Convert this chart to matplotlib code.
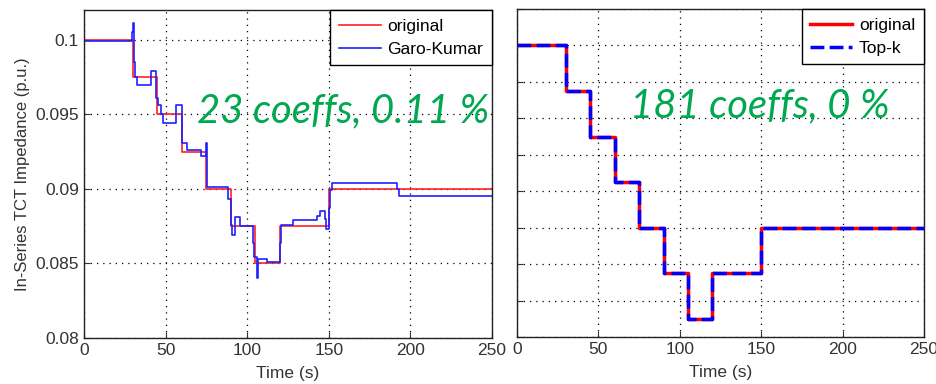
import numpy as np
import matplotlib.pyplot as plt

# original step profile (s, p.u.)
orig_t = [0, 30, 45, 60, 75, 90, 105, 120, 150, 250]
orig_z = [0.1, 0.0975, 0.095, 0.0925, 0.09, 0.0875, 0.085, 0.0875, 0.09, 0.09]

# Garo-Kumar reconstruction, 23 coefficients
gk_t = [0, 29.5, 30, 30.7, 31.5, 32.5, 41, 44, 45.5, 47, 48.5, 56.5, 60.2, 63,
        71.5, 74.5, 75.5, 88.5, 90.2, 91, 92.5, 95.5, 103.5, 104.5, 106, 106.8,
        112, 120, 120.7, 128, 143, 144.5, 147.5, 148.5, 150, 150.7, 152, 192,
        193, 250]
gk_z = [0.0999, 0.1005, 0.1011, 0.0985, 0.0975, 0.0970, 0.0979, 0.0961, 0.0956,
        0.0950, 0.0944, 0.0956, 0.0931, 0.0926, 0.0922, 0.0931, 0.0901, 0.0893,
        0.0876, 0.0869, 0.0881, 0.0875, 0.0864, 0.0854, 0.0840, 0.0853, 0.0851,
        0.0864, 0.0876, 0.0879, 0.0882, 0.0885, 0.0880, 0.0873, 0.0887, 0.0899,
        0.0904, 0.0900, 0.08953, 0.08953]

# Top-k reconstruction, 181 coefficients (exact)
topk_t = orig_t
topk_z = orig_z

plt.rcParams['font.family'] = ['Liberation Sans', 'DejaVu Sans']
plt.rcParams['font.size'] = 12.5
TXT = '#333333'

fig = plt.figure(figsize=(9.37, 3.84), dpi=100)
ax1 = fig.add_axes([0.0896, 0.1198, 0.4354, 0.8542])
ax2 = fig.add_axes([0.5518, 0.1224, 0.4343, 0.8542])

ax1.plot(orig_t, orig_z, drawstyle='steps-post', color='#ff2020', lw=1.2, label='original')
ax1.plot(gk_t, gk_z, drawstyle='steps-post', color='#2020ff', lw=1.2, label='Garo-Kumar')
ax1.set_xlim(0, 250)
ax1.set_ylim(0.08, 0.102)
ax1.set_yticks([0.08, 0.085, 0.09, 0.095, 0.1])
ax1.set_yticklabels(['0.08', '0.085', '0.09', '0.095', '0.1'])
ax1.set_xticks([0, 50, 100, 150, 200, 250])
ax1.set_ylabel('In-Series TCT Impedance (p.u.)', color=TXT, fontsize=12, labelpad=4)
ax1.set_xlabel('Time (s)', color=TXT, fontsize=12.5, labelpad=6)

ax2.plot(orig_t, orig_z, drawstyle='steps-post', color='#ff0000', lw=2.5, label='original')
ax2.plot(topk_t, topk_z, drawstyle='steps-post', color='#0000ff', lw=2.5,
         ls=(0, (4, 1.5)), label='Top-k')
ax2.set_xlim(0, 250)
ax2.set_ylim(0.084, 0.102)
ax2.set_yticks(np.arange(0.084, 0.1021, 0.002))
ax2.set_yticklabels([])
ax2.set_xticks([0, 50, 100, 150, 200, 250])
ax2.set_xlabel('Time (s)', color=TXT, fontsize=12.5, labelpad=6)

for ax in (ax1, ax2):
    ax.grid(True, color='black', ls=(0, (1, 4)), lw=0.9)
    ax.tick_params(direction='in', length=4, colors=TXT, labelcolor=TXT,
                   labelsize=12.5)
    for s in ax.spines.values():
        s.set_color('#222222')
        s.set_linewidth(1.0)
    leg = ax.legend(loc='upper right', borderaxespad=0, fancybox=False,
                    handlelength=2.4, framealpha=1, edgecolor='black',
                    fontsize=12.5, borderpad=0.5, labelspacing=0.45,
                    handletextpad=0.4)
    leg.get_frame().set_linewidth(1.0)

fig.text(0.210, 0.682, '23 coeffs, 0.11 %', color='#00a84f', fontsize=28.8,
         style='italic', family=['Lato', 'DejaVu Sans'], va='baseline')
fig.text(0.672, 0.693, '181 coeffs, 0 %', color='#00a84f', fontsize=28.8,
         style='italic', family=['Lato', 'DejaVu Sans'], va='baseline')

fig.savefig('out.png', dpi=100, facecolor='white')
